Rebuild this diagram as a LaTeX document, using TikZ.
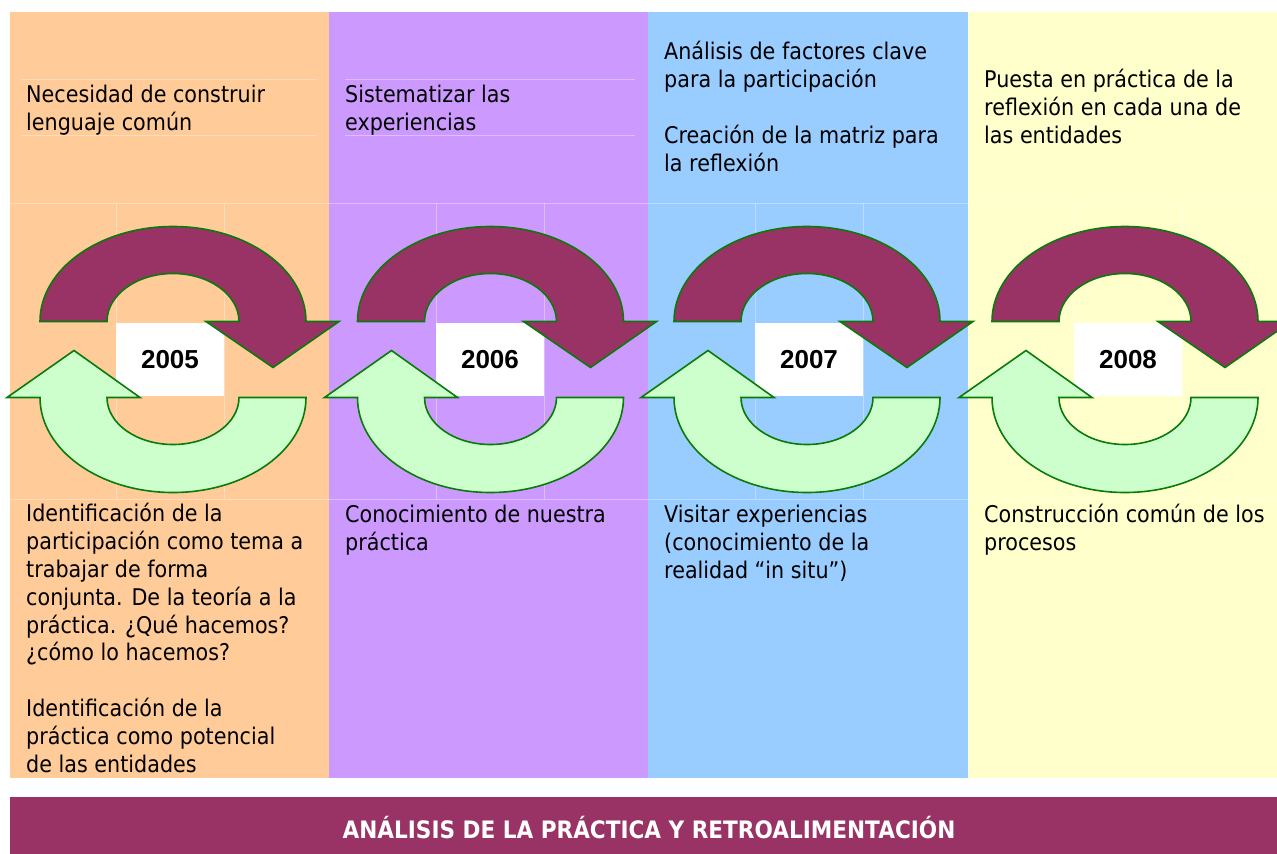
\documentclass[tikz,border=0pt]{standalone}
\usepackage{fontspec}
\setmainfont{DejaVu Sans}[FakeStretch=0.9]
\newfontfamily\yearfont{Liberation Sans}

\definecolor{peach}{HTML}{FFCC99}
\definecolor{lilac}{HTML}{CC99FF}
\definecolor{sky}{HTML}{99CCFF}
\definecolor{cream}{HTML}{FFFFCC}
\definecolor{maroon}{HTML}{993366}
\definecolor{mint}{HTML}{CCFFCC}
\definecolor{rim}{HTML}{0A7A0A}

\tikzset{
  gridline/.style={draw=white, opacity=0.35, line width=0.8pt},
  yearbox/.style={fill=white, minimum width=108pt, minimum height=73pt, inner sep=0pt,
                  font=\yearfont\bfseries\fontsize{26}{30}\selectfont},
  uparrow/.style={fill=maroon, draw=rim, line width=1.6pt},
  downarrow/.style={fill=mint, draw=rim, line width=1.6pt},
  % base = base line of the last line
  note/.style={anchor=base west, inner sep=0pt, align=left,
               font=\fontsize{23}{27.8}\selectfont},
  banner/.style={text=white, inner sep=0pt, font=\bfseries\fontsize{24}{28}\selectfont}
}

% upper half ring, arrow head on the right
\newcommand{\ringtop}[2]{%
  \draw[uparrow] ({#1-133},#2) arc[start angle=180, end angle=360, x radius=133, y radius=95]
    -- ++(33,0) -- ++(-66,46) -- ++(-67,-46) -- ++(33,0)
    arc[start angle=360, end angle=180, x radius=66, y radius=48] -- cycle;}
% lower half ring, arrow head on the left
\newcommand{\ringbottom}[2]{%
  \draw[downarrow] ({#1+133},#2) arc[start angle=0, end angle=180, x radius=133, y radius=95]
    -- ++(-33,0) -- ++(67,-47) -- ++(66,47) -- ++(-33,0)
    arc[start angle=180, end angle=0, x radius=66, y radius=47] -- cycle;}

\begin{document}
\begin{tikzpicture}[x=1pt, y=-1pt]
    \useasboundingbox (0,0) rectangle (1277,854);

    % columns
    \fill[peach] (10,12) rectangle (329,778);
    \fill[lilac] (329,12) rectangle (648,778);
    \fill[sky] (648,12) rectangle (968,778);
    \fill[cream] (968,12) rectangle (1287,778);

    % table lines left over
    \draw[gridline] (21,79) -- (316,79) (21,135) -- (316,135);
    \draw[gridline] (345,79) -- (635,79) (345,135) -- (635,135);
    \foreach \xa/\xb in {10/329, 329/648, 648/968, 968/1277} {
        \draw[gridline] (\xa,203) -- (\xb,203) (\xa,499) -- (\xb,499);
    }
    \foreach \bx in {116, 436, 755, 1074} {
        \draw[gridline] (\bx,203) -- (\bx,499) ({\bx+108},203) -- ({\bx+108},499);
    }

    % years
    \foreach \bx/\yr in {116/2005, 436/2006, 755/2007, 1074/2008} {
        \node[yearbox] (y\yr) at ({\bx+54},359.5) {\yr};
    }

    % circle arrows
    \foreach \cx in {173, 490.5, 807, 1125} {
        \ringtop{\cx}{321.5}
        \ringbottom{\cx}{397.5}
    }

    % texts above
    \node[note] (top05) at (26,130) {Necesidad de construir\\lenguaje común};
    \node[note] (top06) at (345,130) {Sistematizar las\\experiencias};
    \node[note] (top07) at (664,171) {Análisis de factores clave\\para la participación\\[27.8pt]Creación de la matriz para\\la reflexión};
    \node[note] (top08) at (984,143) {Puesta en práctica de la\\reflexión en cada una de\\las entidades};

    % texts below
    \node[note] (bot05) at (26,772) {Identificación de la\\participación como tema a\\trabajar de forma\\conjunta. De la teoría a la\\práctica. ¿Qué hacemos?\\¿cómo lo hacemos?\\[27.8pt]Identificación de la\\práctica como potencial\\de las entidades};
    \node[note] (bot06) at (345,550) {Conocimiento de nuestra\\práctica};
    \node[note] (bot07) at (664,578) {Visitar experiencias\\(conocimiento de la\\realidad “in situ”)};
    \node[note] (bot08) at (984,550) {Construcción común de los\\procesos};

    % banner
    \fill[maroon] (10,797) rectangle (1277,854);
    \node[banner] (title) at (649,828) {ANÁLISIS DE LA PRÁCTICA Y RETROALIMENTACIÓN};
\end{tikzpicture}
\end{document}
